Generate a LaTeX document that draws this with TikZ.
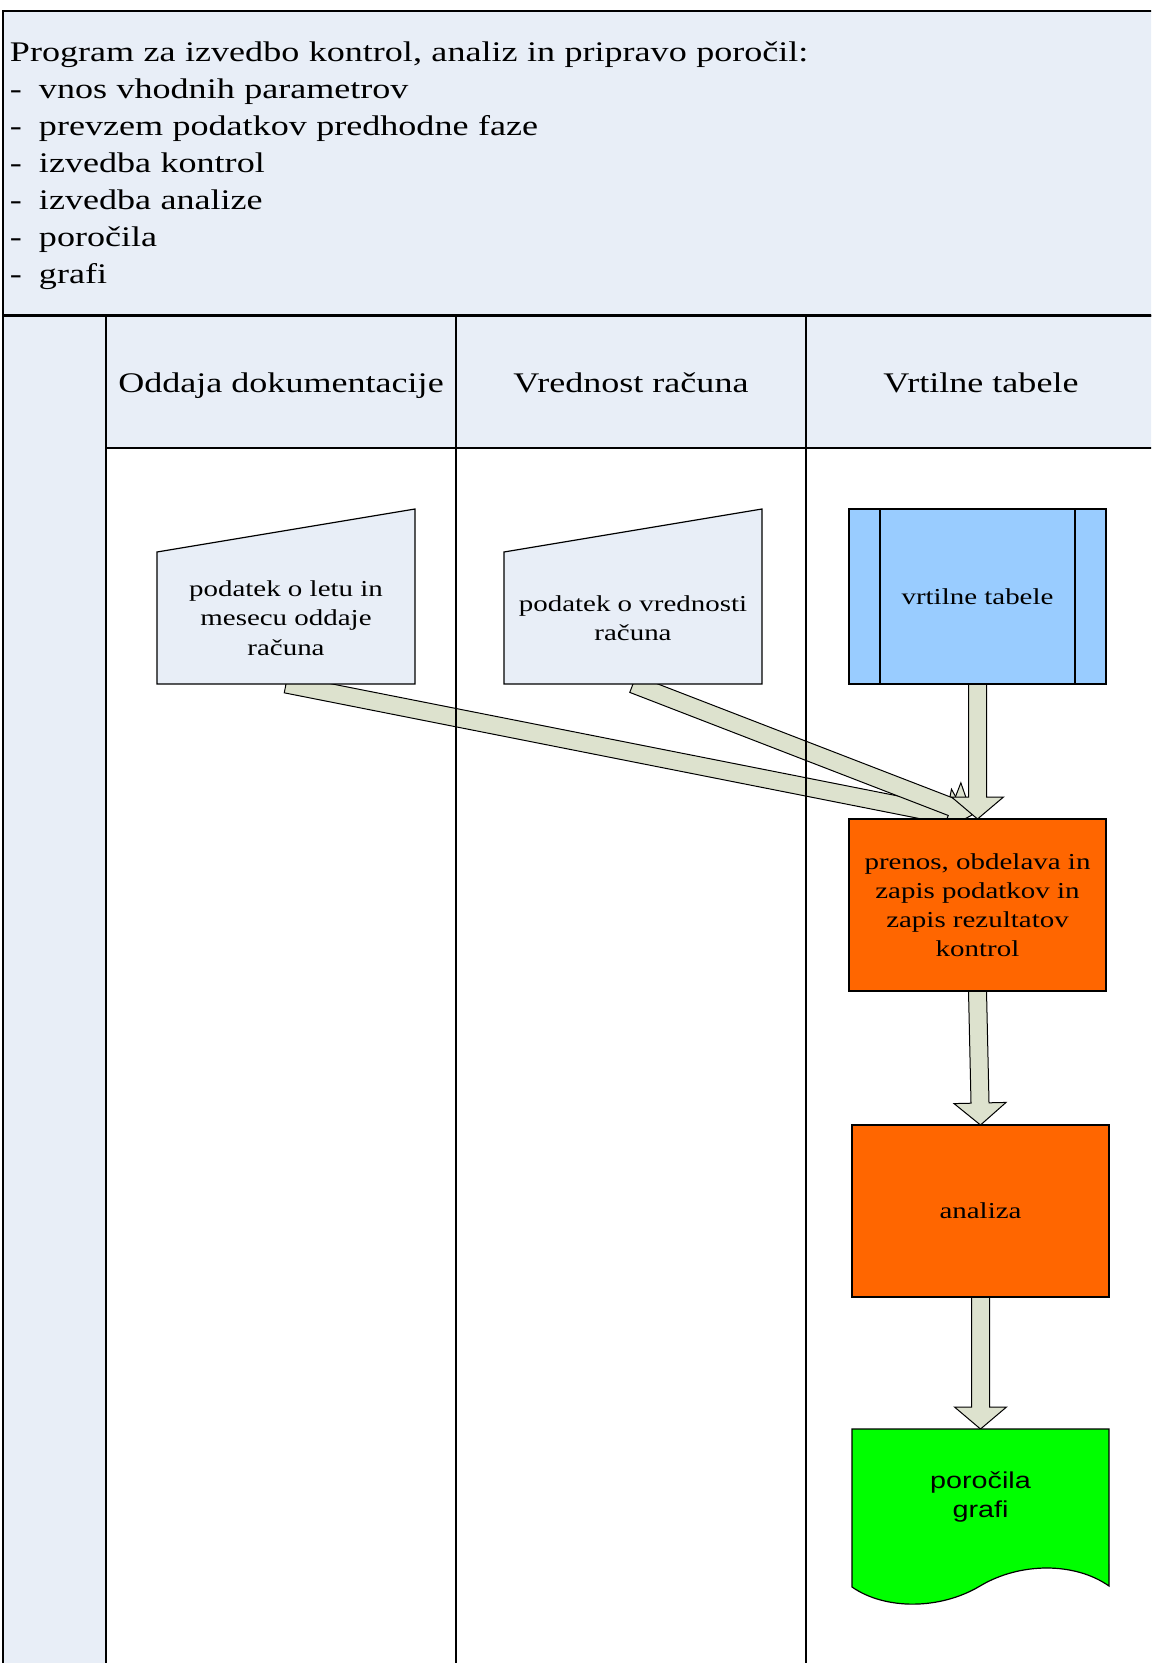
\documentclass[tikz,border=0pt]{standalone}
\usepackage{fontspec}
\setmainfont{Liberation Serif}[FakeStretch=1.27]
\newfontfamily\arialfont{Liberation Sans}[FakeStretch=1.25]
\usetikzlibrary{calc,positioning,backgrounds}

\definecolor{laneblue}{RGB}{232,238,247}
\definecolor{tableblue}{RGB}{153,204,255}
\definecolor{procorange}{RGB}{255,102,0}
\definecolor{repgreen}{RGB}{0,255,0}
\definecolor{arrowgrey}{RGB}{221,226,206}

\newcommand{\headfont}{\fontsize{14.2}{18.5}\selectfont}
\newcommand{\boxfont}{\fontsize{11.4}{14.6}\selectfont}
\newcommand{\arialbox}{\arialfont\fontsize{11.5}{14.4}\selectfont}

% wide block arrow from #1 to #2
\newcommand{\blockarrow}[2]{%
  \coordinate (ba-s) at (#1);
  \coordinate (ba-e) at (#2);
  \coordinate (ba-b) at ($(ba-e)!11pt!(ba-s)$);
  \draw[fatarr] ($(ba-s)!4.5pt!90:(ba-e)$) -- ($(ba-b)!4.5pt!90:(ba-e)$)
    -- ($(ba-b)!13pt!90:(ba-e)$) -- (ba-e) -- ($(ba-b)!13pt!-90:(ba-e)$)
    -- ($(ba-b)!4.5pt!-90:(ba-e)$) -- ($(ba-s)!4.5pt!-90:(ba-e)$) -- cycle;
}

\begin{document}
\begin{tikzpicture}[x=0.5pt, y=-0.5pt,
    every node/.style={inner sep=0pt, outer sep=0pt},
    laneline/.style={line width=0.6pt},
    lanehead/.style={draw, line width=0.6pt, fill=laneblue, minimum width=175pt, minimum height=66pt,
                     text height=12pt, text depth=1pt, font=\headfont},
    manin/.style={fill=laneblue, minimum width=129pt, minimum height=66pt, align=center, font=\boxfont},
    tablebox/.style={draw, line width=0.6pt, fill=tableblue, minimum width=128.5pt, minimum height=87.5pt, font=\boxfont},
    procbox/.style={draw, line width=0.6pt, fill=procorange, minimum width=128.5pt, minimum height=86pt, align=center, font=\boxfont},
    docbox/.style={fill=repgreen, minimum width=128.5pt, minimum height=68pt, align=center, font=\arialbox},
    fatarr/.style={draw, fill=arrowgrey, line width=0.5pt}
]
\path[use as bounding box] (0,0) rectangle (1151,1663);
\clip (0,0) rectangle (1151,1663);

% program header
\node[draw, line width=0.6pt, fill=laneblue, anchor=north west, minimum width=581pt, minimum height=152pt,
      text width=574pt, align=left, font=\headfont] (prog) at (3,11)
  {\rule{0pt}{13pt}Program za izvedbo kontrol, analiz in pripravo poročil:\\
   \makebox[14.5pt][l]{-}vnos vhodnih parametrov\\
   \makebox[14.5pt][l]{-}prevzem podatkov predhodne faze\\
   \makebox[14.5pt][l]{-}izvedba kontrol\\
   \makebox[14.5pt][l]{-}izvedba analize\\
   \makebox[14.5pt][l]{-}poročila\\
   \makebox[14.5pt][l]{-}grafi};

% lanes
\fill[laneblue] (3,316) rectangle (106,1670);
\node[lanehead, anchor=north west] (hd1) at (106,316) {Oddaja dokumentacije};
\node[lanehead, right=0pt of hd1] (hd2) {Vrednost računa};
\node[lanehead, right=0pt of hd2] (hd3) {Vrtilne tabele};

% shapes
\node[manin] (inp1) at (286,618) {podatek o letu in\\mesecu oddaje\\računa};
\node[manin, right=44.5pt of inp1] (inp2) {podatek o vrednosti\\računa};
\node[tablebox] (vt) at (977.5,596.5) {vrtilne tabele};
\node[procbox, below=67.5pt of vt] (proc) {prenos, obdelava in\\zapis podatkov in\\zapis rezultatov\\kontrol};
\node[procbox, below=67pt of proc, xshift=1.5pt] (ana) {analiza};
\node[docbox, below=66pt of ana] (doc) {poročila\\grafi};

\foreach \n in {inp1,inp2} {
  \fill[laneblue] (\n.north west) -- ($(\n.north east)+(0,-43)$) -- (\n.north east) -- cycle;
  \draw[line width=0.6pt] (\n.north west) -- ($(\n.north east)+(0,-43)$) -- (\n.south east) -- (\n.south west) -- cycle;
}
\draw[line width=0.6pt] ([xshift=15.5pt]vt.north west) -- ([xshift=15.5pt]vt.south west);
\draw[line width=0.6pt] ([xshift=-15.5pt]vt.north east) -- ([xshift=-15.5pt]vt.south east);

\begin{scope}[shift={(doc.south west)}]
  \fill[repgreen] (0,-1) -- (0,22) .. controls (33,45) and (88,45) .. (128,21)
    .. controls (168,-3) and (223,-3) .. (257,21) -- (257,-1) -- cycle;
  \draw[line width=0.6pt] (0,22) .. controls (33,45) and (88,45) .. (128,21)
    .. controls (168,-3) and (223,-3) .. (257,21) -- (257,-136) -- (0,-136) -- cycle;
\end{scope}

% connectors
\coordinate (tip1) at ($(proc.north)+(-9.5,0)$);
\coordinate (tip2) at ($(proc.north)+(-5.5,-4)$);
\begin{scope}[on background layer]
  \blockarrow{inp1.south}{tip1}
  \blockarrow{inp2.south}{tip2}
  \blockarrow{vt.south}{proc.north}
  \blockarrow{proc.south}{ana.north}
  \blockarrow{ana.south}{doc.north}
\end{scope}

\draw[laneline] (3,316) -- (1160,316);
\draw[laneline] (3,316) -- (3,1670);
\draw[laneline] (hd1.north west) -- ++(0,1360);
\draw[laneline] (hd2.north west) -- ++(0,1360);
\draw[laneline] (hd3.north west) -- ++(0,1360);
\end{tikzpicture}
\end{document}
